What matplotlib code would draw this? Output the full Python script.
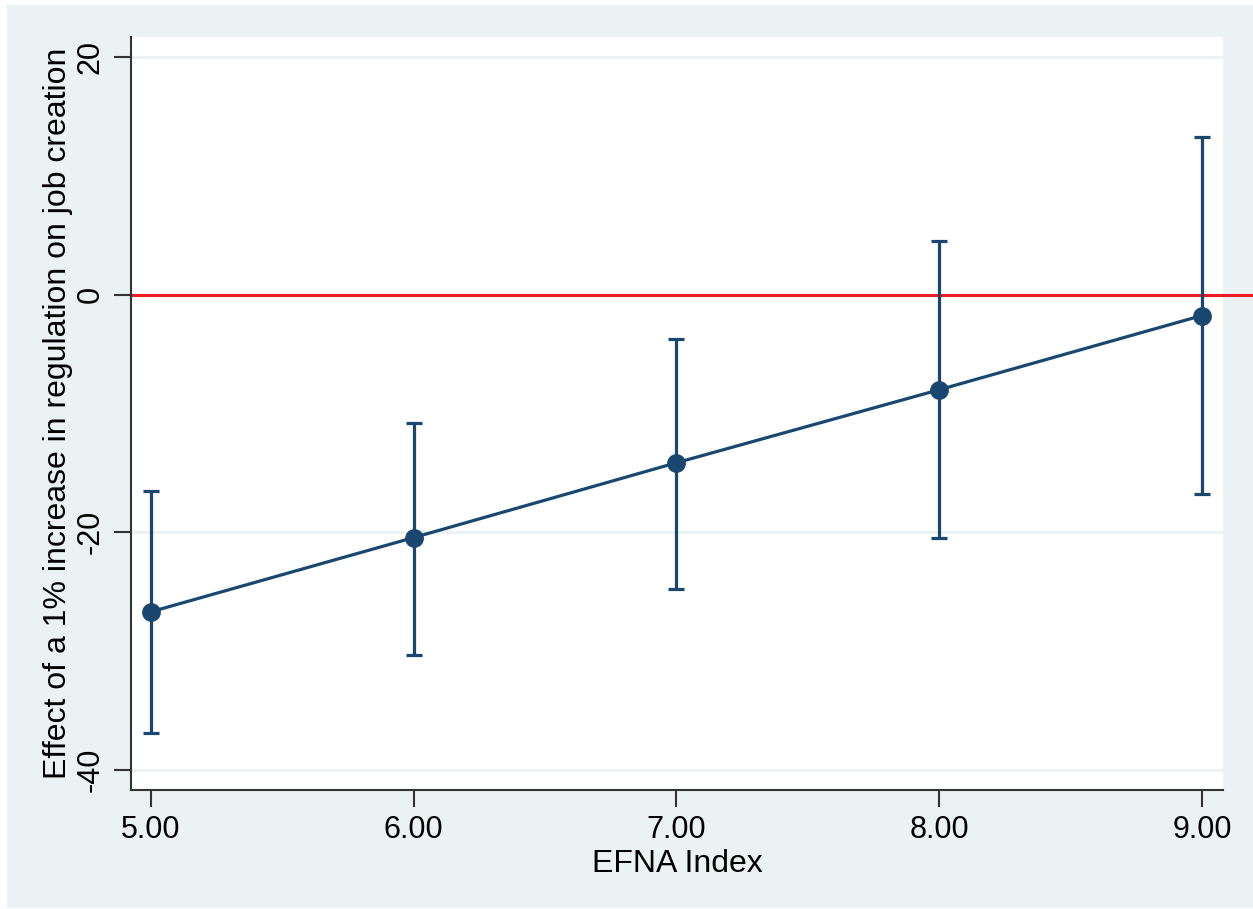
import numpy as np
import matplotlib.pyplot as plt
from matplotlib.patches import Rectangle

plt.rcParams['font.family'] = ['Liberation Sans', 'DejaVu Sans']

# marginal effects by EFNA index level
efna = [5, 6, 7, 8, 9]
effect = [-26.7, -20.45, -14.15, -8.0, -1.75]
ci_upper = [-16.55, -10.8, -3.7, 4.5, 13.3]
ci_lower = [-36.9, -30.3, -24.8, -20.45, -16.8]
xtick_labels = ['5.00', '6.00', '7.00', '8.00', '9.00']
yticks = [-40, -20, 0, 20]

navy = '#1a476f'
bg = '#eaf2f3'

fig = plt.figure(figsize=(12.53, 9.09), dpi=100, facecolor='white')
fig.patches.append(Rectangle((7 / 1253, 1 - 908 / 909), (1253 - 7) / 1253, (908 - 5) / 909,
                             transform=fig.transFigure, facecolor=bg, edgecolor='none', zorder=-1))
ax = fig.add_axes([131 / 1253, 1 - 790 / 909, (1223 - 131) / 1253, (790 - 37) / 909])
ax.set_facecolor('white')

err = [np.array(effect) - np.array(ci_lower), np.array(ci_upper) - np.array(effect)]
ax.errorbar(efna, effect, yerr=err, fmt='none', ecolor=navy, elinewidth=2.3,
            capsize=6, capthick=2.3, zorder=3)
ax.plot(efna, effect, color=navy, lw=2.3, marker='o', markersize=12.5, zorder=4)

# reference line at zero, runs past the plot area to the edge
ax.axhline(0, xmin=0, xmax=(1253 - 131) / (1223 - 131), color='#ee1c25', lw=2.2,
           clip_on=False, zorder=2)

ax.set_xlim(4.925, 9.08)
ax.set_ylim(-41.7, 21.7)
ax.set_xticks(efna)
ax.set_xticklabels(xtick_labels)
ax.set_yticks(yticks)
ax.set_yticklabels([str(v) for v in yticks], rotation=90, va='center')
ax.grid(axis='y', color=bg, lw=2, zorder=1)
ax.set_axisbelow(True)

for s in ['top', 'right']:
    ax.spines[s].set_visible(False)
for s in ['left', 'bottom']:
    ax.spines[s].set_color('#333333')
    ax.spines[s].set_linewidth(1.5)
ax.tick_params(axis='both', length=12, width=1.5, color='#333333', labelsize=22, pad=6)

ax.set_xlabel('EFNA Index', fontsize=23, labelpad=3)
ax.set_ylabel('Effect of a 1% increase in regulation on job creation', fontsize=23, labelpad=2)

fig.savefig('out.png', dpi=100, facecolor=fig.get_facecolor())
